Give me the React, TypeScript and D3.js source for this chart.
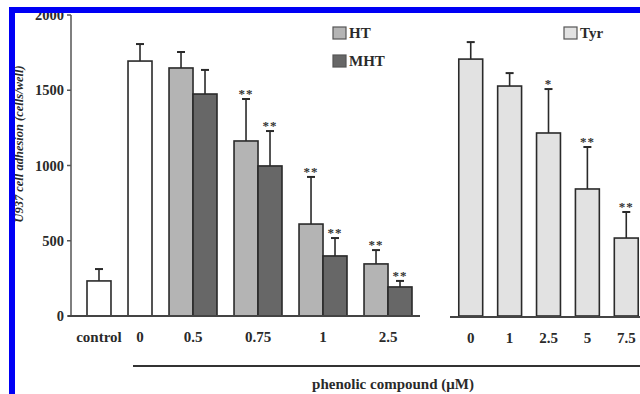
// import d3 for scales and drawing
import * as d3 from "d3";

// import hooks from React
import { useRef, useEffect } from "react";

// left panel: control, vehicle (0) and HT / MHT doses
const leftGroups = ["control", "0", "0.5", "0.75", "1", "2.5"];
const whiteMean = [233, 1694];
const whiteErr = [79, 113];
const htMean = [1648, 1163, 611, 346];
const htErr = [106, 279, 313, 92];
const htStars = ["", "**", "**", "**"];
const mhtMean = [1475, 997, 399, 193];
const mhtErr = [160, 232, 119, 40];
const mhtStars = ["", "**", "**", "**"];

// right panel: tyrosol doses
const tyrLabels = ["0", "1", "2.5", "5", "7.5"];
const tyrMean = [1707, 1528, 1216, 844, 518];
const tyrErr = [113, 86, 292, 279, 173];
const tyrStars = ["", "", "*", "**", "**"];

// y axis ticks
const yTicks = [0, 500, 1000, 1500, 2000];

const colors = { white: "#ffffff", HT: "#b4b4b4", MHT: "#676767", Tyr: "#e2e2e2" };

export default function App() {
    const svgRef = useRef(null);

    useEffect(() => {
        const svg = d3.select(svgRef.current);
        svg.selectAll("*").remove();

        const font = "'Liberation Serif', 'Times New Roman', serif";
        const ink = "#2a2a2a";

        // shared y scale
        const y = d3.scaleLinear().domain([0, 2000]).range([316, 15]);

        // build the list of left bars (groups of 1 or 2 bars, equal gaps)
        const bars = [];
        const gap = 0.71;
        let u = 0;
        const groupCenters = [];
        leftGroups.forEach((g, gi) => {
            if (gi < 2) {
                bars.push({ u, mean: whiteMean[gi], err: whiteErr[gi], fill: colors.white, star: "" });
                groupCenters.push(u + 0.5);
                u += 1;
            } else {
                const k = gi - 2;
                bars.push({ u, mean: htMean[k], err: htErr[k], fill: colors.HT, star: htStars[k] });
                bars.push({ u: u + 1, mean: mhtMean[k], err: mhtErr[k], fill: colors.MHT, star: mhtStars[k] });
                groupCenters.push(u + 1);
                u += 2;
            }
            u += gap;
        });
        const totalUnits = u - gap;
        const xl = d3.scaleLinear().domain([0, totalUnits]).range([87, 412]);
        const bw = xl(1) - xl(0);

        // right panel band scale
        const xr = d3.scaleBand().domain(tyrLabels).range([451, 646]).paddingInner(0.385).paddingOuter(0.2);
        tyrLabels.forEach((t, i) => {
            bars.push({ x0: xr(t), w: xr.bandwidth(), mean: tyrMean[i], err: tyrErr[i], fill: colors.Tyr, star: tyrStars[i] });
        });

        const g = svg.append("g");

        // draw bars, error bars and stars
        bars.forEach((b) => {
            const x0 = b.x0 !== undefined ? b.x0 : xl(b.u);
            const w = b.w !== undefined ? b.w : bw;
            const cx = x0 + w / 2;
            const top = y(b.err + b.mean);
            g.append("line").attr("x1", cx).attr("x2", cx).attr("y1", top).attr("y2", y(b.mean)).attr("stroke", ink).attr("stroke-width", 1.6);
            g.append("line").attr("x1", cx - 4).attr("x2", cx + 4).attr("y1", top).attr("y2", top).attr("stroke", ink).attr("stroke-width", 2);
            g.append("rect").attr("x", x0).attr("y", y(b.mean)).attr("width", w).attr("height", y(0) - y(b.mean)).attr("fill", b.fill).attr("stroke", ink).attr("stroke-width", 1.6);
            if (b.star) {
                g.append("text").attr("x", cx).attr("y", top - 1).attr("text-anchor", "middle").attr("font-family", font).attr("font-weight", "bold").attr("font-size", 13).attr("fill", "#333").attr("letter-spacing", 1).text(b.star);
            }
        });

        // left y axis
        g.append("line").attr("x1", 71).attr("x2", 71).attr("y1", y(2000)).attr("y2", y(0)).attr("stroke", "#555").attr("stroke-width", 1.5);
        yTicks.forEach((t) => {
            g.append("line").attr("x1", 67).attr("x2", 71).attr("y1", y(t)).attr("y2", y(t)).attr("stroke", "#555").attr("stroke-width", 1.5);
            g.append("text").attr("x", 64).attr("y", y(t)).attr("dy", "0.35em").attr("text-anchor", "end").attr("font-family", font).attr("font-weight", "bold").attr("font-size", 14.5).attr("fill", ink).text(t);
        });

        // baselines
        g.append("line").attr("x1", 68).attr("x2", 420).attr("y1", y(0)).attr("y2", y(0)).attr("stroke", "#444").attr("stroke-width", 1.8);
        g.append("line").attr("x1", 450).attr("x2", 640).attr("y1", y(0) + 1).attr("y2", y(0) + 1).attr("stroke", "#444").attr("stroke-width", 1.8);

        // category labels
        leftGroups.forEach((c, i) => {
            g.append("text").attr("x", xl(groupCenters[i])).attr("y", 342).attr("text-anchor", "middle").attr("font-family", font).attr("font-weight", "bold").attr("font-size", 15).attr("fill", ink).text(c);
        });
        tyrLabels.forEach((t) => {
            g.append("text").attr("x", xr(t) + xr.bandwidth() / 2).attr("y", 343).attr("text-anchor", "middle").attr("font-family", font).attr("font-weight", "bold").attr("font-size", 15).attr("fill", ink).text(t);
        });

        // long line under concentrations and axis title
        g.append("line").attr("x1", 133).attr("x2", 640).attr("y1", 366).attr("y2", 366).attr("stroke", "#333").attr("stroke-width", 2);
        g.append("text").attr("x", 393).attr("y", 389).attr("text-anchor", "middle").attr("font-family", font).attr("font-weight", "bold").attr("font-size", 15).attr("fill", ink).text("phenolic compound (μM)");

        // y axis title
        g.append("text").attr("transform", "translate(23,144) rotate(-90)").attr("text-anchor", "middle").attr("font-family", font).attr("font-weight", "bold").attr("font-style", "italic").attr("font-size", 12.5).attr("fill", ink).text("U937 cell adhesion (cells/well)");

        // legends
        const legend = [
            { label: "HT", fill: colors.HT, x: 333, y: 27 },
            { label: "MHT", fill: colors.MHT, x: 333, y: 55 },
            { label: "Tyr", fill: colors.Tyr, x: 564, y: 27 },
        ];
        legend.forEach((l) => {
            g.append("rect").attr("x", l.x).attr("y", l.y).attr("width", 13).attr("height", 12).attr("fill", l.fill).attr("stroke", "#555").attr("stroke-width", 1.2);
            g.append("text").attr("x", l.x + 16).attr("y", l.y + 11).attr("font-family", font).attr("font-weight", "bold").attr("font-size", 15).attr("fill", ink).text(l.label);
        });

        // blue frame drawn on top
        svg.append("rect").attr("x", 9).attr("y", 7).attr("width", 631).attr("height", 6).attr("fill", "#0000f5");
        svg.append("rect").attr("x", 9).attr("y", 7).attr("width", 6).attr("height", 387).attr("fill", "#0000f5");
    }, []);

    return (
        <svg ref={svgRef} width={640} height={394} style={{ position: "absolute", left: 0, top: 0, background: "#fff" }} />
    );
}
